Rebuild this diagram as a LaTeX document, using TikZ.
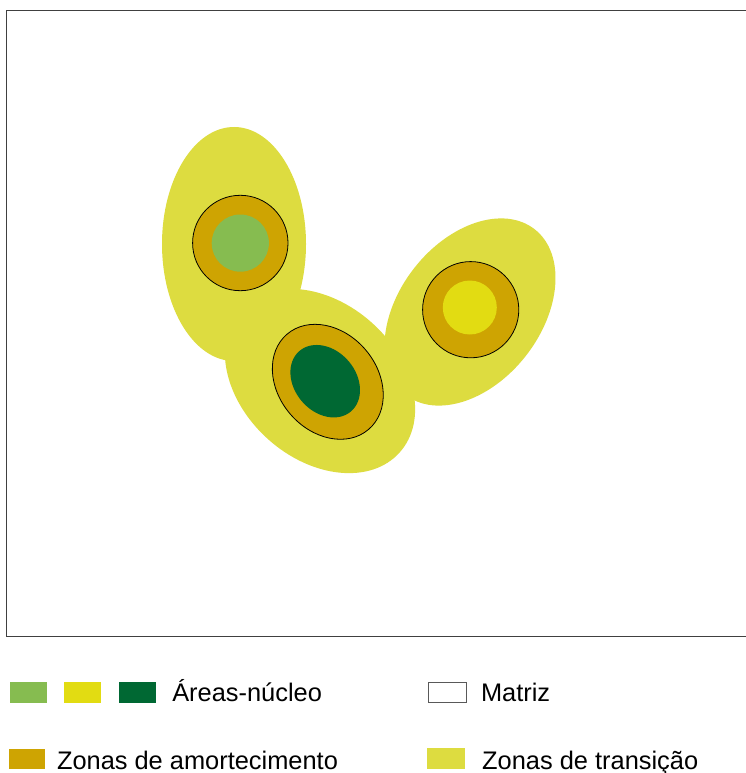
\documentclass[tikz,border=0pt]{standalone}
\usepackage{fontspec}
\setmainfont{Liberation Sans}
\definecolor{transc}{RGB}{221,220,64}
\definecolor{bufc}{RGB}{206,164,2}
\definecolor{lgreen}{RGB}{134,188,80}
\definecolor{ycore}{RGB}{226,220,18}
\definecolor{dgreen}{RGB}{0,104,51}
\begin{document}
\begin{tikzpicture}[x=1pt,y=-1pt,
  frame/.style={draw=black!75,line width=1pt},
  transzone/.style={fill=transc},
  buffer/.style={fill=bufc,draw=black,line width=0.8pt},
  swatch/.style={rectangle,inner sep=0pt,outer sep=0pt,minimum width=37pt,minimum height=20.5pt},
  lbl/.style={anchor=base west,inner sep=0pt,outer sep=0pt,font=\fontsize{25.4}{30}\selectfont}]
\useasboundingbox (0,0) rectangle (746,773);
\fill[white] (0,0) rectangle (746,773);
% frame (matrix)
\draw[frame] (746,11) -- (6,11) -- (6,636) -- (746,636);
% transition zones
\fill[transzone] (234,244) ellipse (72 and 117);
\fill[transzone, shift={(320,381)}, rotate=-42] (0,0) ellipse (107 and 78);
\fill[transzone, shift={(470,312)}, rotate=52] (0,0) ellipse (105 and 71);
% buffer zones
\filldraw[buffer] (240.3,243) circle (47.7);
\filldraw[buffer, shift={(327.8,381.8)}, rotate=-49.4] (0,0) ellipse (62.7 and 49.5);
\filldraw[buffer] (470.7,309.7) circle (48.1);
% core areas
\fill[lgreen] (240.3,243.1) circle (28.6);
\fill[dgreen, shift={(325.2,381.2)}, rotate=-49.6] (0,0) ellipse (39.7 and 30.8);
\fill[ycore] (469.8,307.5) circle (27);
% legend
\node[swatch, fill=lgreen] (k1) at (28.5,692.4) {};
\node[swatch, fill=ycore] (k2) at (82.5,692.4) {};
\node[swatch, fill=dgreen] (k3) at (137.5,692.4) {};
\node[lbl] (t1) at (172.3,701.7) {Áreas-núcleo};
\node[swatch, fill=white, draw=black!65, line width=0.8pt, minimum width=38pt, minimum height=19.6pt] (k4) at (446.9,692.5) {};
\node[lbl] (t4) at (481,701.7) {Matriz};
\node[swatch, fill=bufc, minimum width=35.7pt] (k5) at (27.2,759) {};
\node[lbl] (t5) at (57,769) {Zonas de amortecimento};
\node[swatch, fill=transc, minimum width=38pt] (k6) at (446.3,758.7) {};
\node[lbl] (t6) at (482.2,769) {Zonas de transição};
\end{tikzpicture}
\end{document}
